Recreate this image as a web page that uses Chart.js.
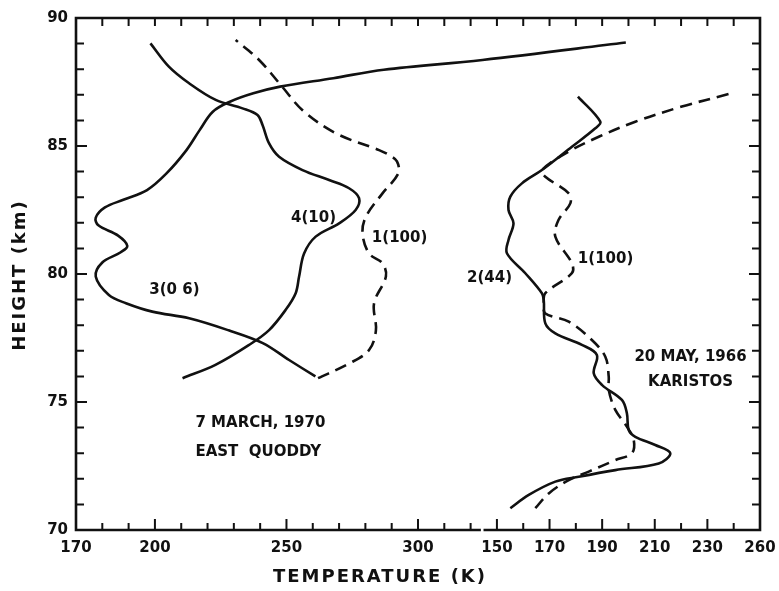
<!DOCTYPE html>
<html>
<head>
<meta charset="utf-8">
<script src="https://cdn.jsdelivr.net/npm/chart.js@4"></script>
<style>
  html, body { margin: 0; padding: 0; background: #fff; }
</style>
</head>
<body>
<canvas id="myChart" width="779" height="591"></canvas>
<script>
// East Quoddy, 7 March 1970 (left panel, temperature K / height km)
const eq3Temp   = [261, 251, 241, 228, 213, 199, 189, 182.5, 177.5, 180, 187, 189.5, 186, 178.5, 177.5, 181, 188, 197, 204.4, 212, 217, 222, 228.5, 237.4, 247.6, 267.8, 287, 324.5, 379];
const eq3Height = [76.0, 76.64, 77.3, 77.8, 78.27, 78.53, 78.86, 79.18, 79.9, 80.45, 80.85, 81.1, 81.5, 81.9, 82.2, 82.6, 82.9, 83.28, 83.93, 84.84, 85.62, 86.34, 86.73, 87.06, 87.32, 87.65, 87.98, 88.36, 89.04];

const eq4Temp   = [210.5, 223, 235.8, 243.4, 249.7, 253.5, 254.8, 256.7, 261.1, 270, 276.3, 277.6, 273.8, 266.2, 256.1, 247.2, 243.4, 240.9, 239, 233.3, 223.1, 213, 205.3, 198.3];
const eq4Height = [75.93, 76.45, 77.23, 77.81, 78.6, 79.25, 79.9, 80.8, 81.46, 81.98, 82.5, 82.96, 83.35, 83.67, 84.06, 84.58, 85.1, 85.82, 86.21, 86.47, 86.8, 87.45, 88.1, 89.01];

const eq1Temp   = [262, 273.8, 281.4, 284, 283.3, 287.8, 286.5, 281.4, 278.9, 280.2, 286.5, 292.5, 292, 289, 285.2, 268.7, 256.1, 248.5, 239.6, 230.7];
const eq1Height = [75.93, 76.5, 77.03, 77.8, 78.86, 79.9, 80.42, 80.8, 81.59, 82.24, 83.15, 83.93, 84.4, 84.65, 84.84, 85.5, 86.4, 87.3, 88.36, 89.14];

// Karistos, 20 May 1966 (right panel)
const kar2Temp   = [155.1, 162.1, 172.2, 181.1, 195, 211.5, 215.9, 210.2, 202.6, 200.1, 199.4, 197.5, 190, 186.8, 188, 182.3, 172.2, 168.4, 167.8, 167.1, 160.8, 153.8, 154.4, 156.3, 154.4, 155.1, 159.5, 167.1, 178.5, 187.4, 189.3, 180.8];
const kar2Height = [70.85, 71.37, 71.89, 72.08, 72.34, 72.6, 73.0, 73.32, 73.64, 73.9, 74.56, 75.08, 75.66, 76.12, 76.84, 77.23, 77.68, 78.07, 78.98, 79.25, 80.03, 80.81, 81.33, 81.98, 82.5, 83.02, 83.54, 84.06, 84.97, 85.69, 85.95, 86.93];

const kar1Temp   = [164.6, 169.7, 177.3, 184.9, 195, 201.3, 202, 199.4, 195, 192.5, 192.5, 191.2, 186.1, 177.3, 168.4, 167.8, 168.4, 178.5, 178.5, 172.2, 173.4, 177.9, 177.3, 168.4, 167.1, 177.3, 188.7, 202.6, 220.3, 238.1];
const kar1Height = [70.85, 71.43, 71.95, 72.28, 72.73, 73.0, 73.52, 74.04, 74.69, 75.47, 75.99, 76.77, 77.42, 78.14, 78.46, 78.86, 79.25, 80.03, 80.42, 81.46, 82.11, 82.76, 83.15, 83.8, 84.06, 84.78, 85.36, 85.95, 86.54, 87.03];

// tick labels
const leftTickValues  = [170, 200, 250, 300];
const rightTickValues = [150, 170, 190, 210, 230, 250];
const rightTickLabels = ['150', '170', '190', '210', '230', '260'];
const heightTicks     = [70, 75, 80, 85, 90];

// right panel shares the x scale, shifted along it
const RIGHT_SHIFT = 180;
const LEFT_END = 323.4, RIGHT_START = 325.4, X_MIN = 170, X_MAX = 430;

const pts = (t, h, shift) => t.map((v, i) => ({ x: v + shift, y: h[i] }));
const ink = '#111';

function curve(t, h, shift, dashed) {
  return {
    data: pts(t, h, shift),
    showLine: true,
    borderColor: ink,
    borderWidth: 2.6,
    borderDash: dashed ? [12, 7] : [],
    pointRadius: 0,
    tension: 0.35,
    fill: false
  };
}

const notes = [
  { text: '3(0 6)', x: 207.4, y: 79.38, align: 'center' },
  { text: '4(10)', x: 260.3, y: 82.19, align: 'center' },
  { text: '1(100)', x: 293, y: 81.4, align: 'center' },
  { text: '2(44)', x: 327.2, y: 79.84, align: 'center' },
  { text: '1(100)', x: 371.3, y: 80.6, align: 'center' },
  { text: '7 MARCH, 1970', x: 215.4, y: 74.18, align: 'left' },
  { text: 'EAST  QUODDY', x: 215.4, y: 73.05, align: 'left' },
  { text: '20 MAY, 1966', x: 403.6, y: 76.76, align: 'center' },
  { text: 'KARISTOS', x: 403.6, y: 75.78, align: 'center' }
];

const frame = {
  id: 'frame',
  afterDatasetsDraw(chart) {
    const { ctx, scales: { x, y } } = chart;
    const X = v => x.getPixelForValue(v), Y = v => y.getPixelForValue(v);
    ctx.save();
    ctx.strokeStyle = ink;
    ctx.lineWidth = 2.6;
    ctx.lineCap = 'square';
    ctx.beginPath();
    ctx.moveTo(X(LEFT_END), Y(70));
    ctx.lineTo(X(X_MIN), Y(70));
    ctx.lineTo(X(X_MIN), Y(90));
    ctx.lineTo(X(X_MAX), Y(90));
    ctx.lineTo(X(X_MAX), Y(70));
    ctx.lineTo(X(RIGHT_START), Y(70));
    ctx.stroke();

    const majors = leftTickValues.concat(rightTickValues.map(v => v + RIGHT_SHIFT));
    ctx.lineWidth = 2;
    ctx.lineCap = 'butt';
    ctx.beginPath();
    for (let h = 71; h < 90; h++) {
      const len = h % 5 === 0 ? 11 : 8;
      ctx.moveTo(X(X_MIN), Y(h)); ctx.lineTo(X(X_MIN) + len, Y(h));
      ctx.moveTo(X(X_MAX), Y(h)); ctx.lineTo(X(X_MAX) - len, Y(h));
    }
    for (let t = X_MIN + 10; t < X_MAX; t += 10) {
      const len = majors.includes(t) ? 11 : 7;
      ctx.moveTo(X(t), Y(70)); ctx.lineTo(X(t), Y(70) - len);
      ctx.moveTo(X(t), Y(90)); ctx.lineTo(X(t), Y(90) + 8);
    }
    ctx.stroke();

    ctx.fillStyle = ink;
    ctx.font = 'bold 15px "DejaVu Sans"';
    ctx.textBaseline = 'middle';
    notes.forEach(n => {
      ctx.textAlign = n.align;
      ctx.fillText(n.text, X(n.x), Y(n.y));
    });

    ctx.font = 'bold 18px "DejaVu Sans"';
    ctx.textAlign = 'center';
    ctx.letterSpacing = '2px';
    ctx.fillText('TEMPERATURE (K)', 380, 577);
    ctx.translate(20, 275);
    ctx.rotate(-Math.PI / 2);
    ctx.fillText('HEIGHT (km)', 0, 0);
    ctx.restore();
  }
};

const ctx = document.getElementById('myChart');
new Chart(ctx, {
  type: 'scatter',
  data: {
    datasets: [
      curve(eq3Temp, eq3Height, 0, false),
      curve(eq4Temp, eq4Height, 0, false),
      curve(eq1Temp, eq1Height, 0, true),
      curve(kar2Temp, kar2Height, RIGHT_SHIFT, false),
      curve(kar1Temp, kar1Height, RIGHT_SHIFT, true)
    ]
  },
  options: {
    responsive: false,
    animation: false,
    layout: { padding: { top: 18, right: 19, left: 0, bottom: 0 } },
    plugins: { legend: { display: false }, tooltip: { enabled: false } },
    scales: {
      x: {
        type: 'linear', min: X_MIN, max: X_MAX,
        grid: { display: false, drawTicks: false },
        border: { display: false },
        ticks: {
          stepSize: 10, autoSkip: false, maxRotation: 0, padding: 9,
          color: ink, font: { family: 'DejaVu Sans', size: 15, weight: 'bold' },
          callback: v => {
            if (v <= LEFT_END) return leftTickValues.includes(v) ? String(v) : '';
            const i = rightTickValues.indexOf(v - RIGHT_SHIFT);
            return i >= 0 ? rightTickLabels[i] : '';
          }
        },
        afterFit(s) { s.height = 61; s.paddingLeft = 0; s.paddingRight = 0; }
      },
      y: {
        min: 70, max: 90,
        grid: { display: false, drawTicks: false },
        border: { display: false },
        ticks: {
          stepSize: 5, padding: 8,
          color: ink, font: { family: 'DejaVu Sans', size: 15, weight: 'bold' },
          callback: v => heightTicks.includes(v) ? String(v) : ''
        },
        afterFit(s) { s.width = 76; s.paddingTop = 0; s.paddingBottom = 0; }
      }
    }
  },
  plugins: [frame]
});
</script>
</body>
</html>
